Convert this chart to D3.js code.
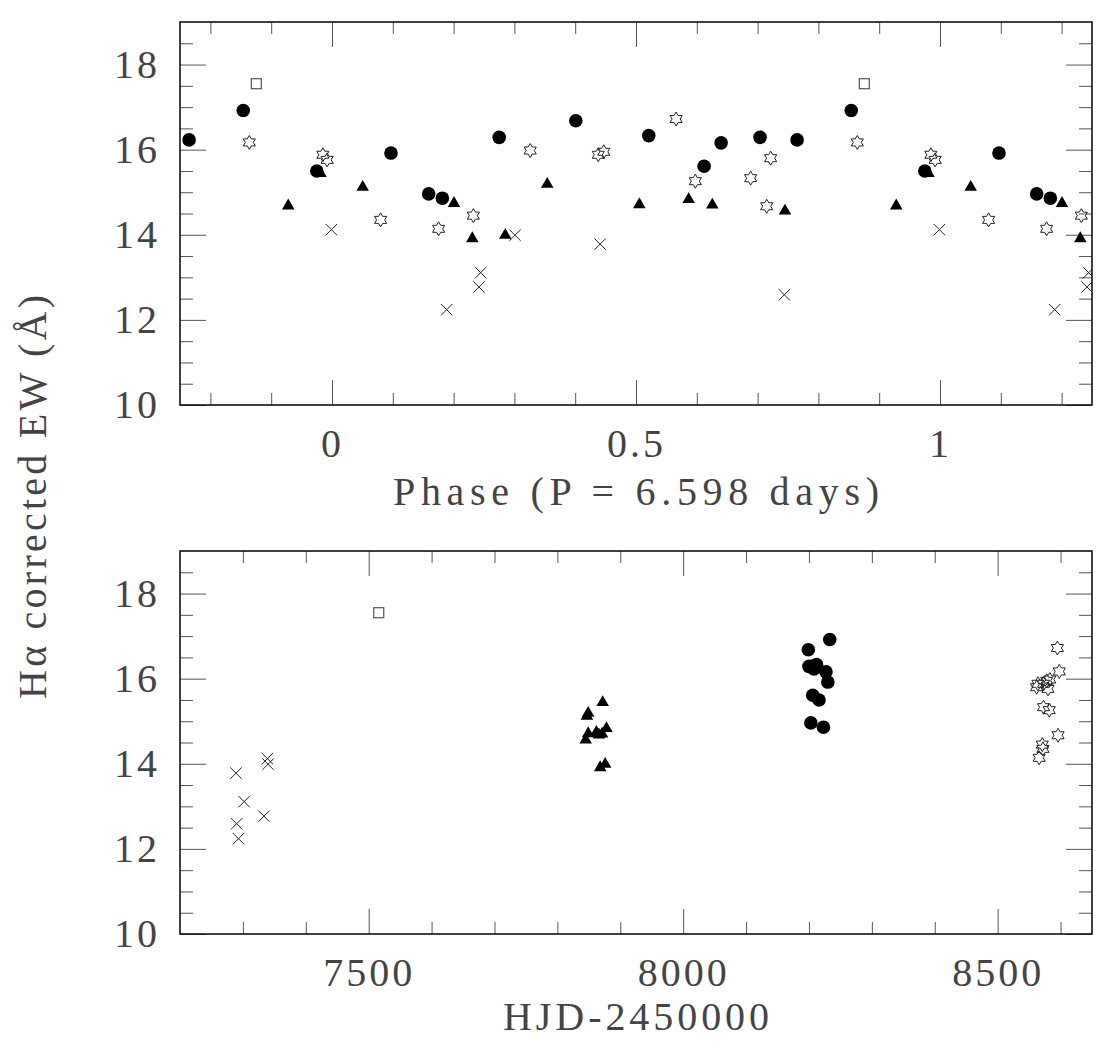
<!DOCTYPE html>
<html><head><meta charset="utf-8">
<script src="https://cdn.jsdelivr.net/npm/d3@7"></script>
<style>body{margin:0;background:#fff} svg{display:block}</style>
</head><body><svg id="c" width="1105" height="1042"></svg>
<script>
// ---------- data ----------
const circleHJD   = [8233, 8199, 8212, 8200, 8205, 8208, 8227, 8230, 8206, 8216, 8203, 8223];
const circlePhase = [0.854, 0.401, 0.521, 0.275, 0.704, 0.765, 0.640, 0.097, 0.612, 0.975, 0.159, 0.1815];
const circleEW    = [16.92, 16.68, 16.33, 16.29, 16.29, 16.23, 16.16, 15.92, 15.61, 15.50, 14.96, 14.86];

const triHJD   = [7872, 7847, 7849, 7866, 7862, 7849, 7878, 7871, 7845, 7868, 7876];
const triPhase = [0.981, 0.0505, 0.354, 0.928, 0.2007, 0.5055, 0.5866, 0.6255, 0.745, 0.2308, 0.285];
const triEW    = [15.44, 15.12, 15.19, 14.68, 14.74, 14.71, 14.83, 14.70, 14.56, 13.91, 13.99];

const starHJD   = [8595, 8598, 8583, 8578, 8564, 8573, 8562, 8580, 8573, 8582, 8596, 8571, 8572, 8566];
const starPhase = [0.566, 0.864, 0.326, 0.447, 0.438, 0.985, 0.7215, 0.992, 0.6886, 0.5976, 0.715, 0.2325, 0.080, 0.1754];
const starEW    = [16.72, 16.17, 15.98, 15.95, 15.88, 15.88, 15.80, 15.76, 15.33, 15.26, 14.67, 14.45, 14.35, 14.14];

const crossHJD   = [7289, 7302, 7290, 7293, 7339, 7340, 7333.5];
const crossPhase = [0.441, 0.2445, 0.744, 0.1886, 0.999, 0.301, 0.2418];
const crossEW    = [13.78, 13.11, 12.59, 12.24, 14.12, 13.99, 12.77];

const squareHJD   = [7516];
const squarePhase = [0.8755];
const squareEW    = [17.55];

const phaseDomain = [-0.25, 1.25];
const hjdDomain = [7200, 8650];
const ewDomain = [10, 19];
const phaseMajor = [0, 0.5, 1];
const phaseMinor = [-0.2, -0.1, 0.1, 0.2, 0.3, 0.4, 0.6, 0.7, 0.8, 0.9, 1.1, 1.2];
const hjdMajor = [7500, 8000, 8500];
const hjdMinor = [7300, 7400, 7600, 7700, 7800, 7900, 8100, 8200, 8300, 8400, 8600];
const ewMajor = [10, 12, 14, 16, 18];
const ewMinor = [10.5, 11, 11.5, 12.5, 13, 13.5, 14.5, 15, 15.5, 16.5, 17, 17.5, 18.5];

const xTitleTop = "Phase (P = 6.598 days)";
const xTitleBottom = "HJD-2450000";
const yTitle = "H\u03b1 corrected EW (\u00c5)";

// ---------- layout ----------
const svg = d3.select("#c");
const L = 180, R = 1092;
const FONT = "Liberation Serif";
const TXT = "#444";

const panels = [
  {y0: 22, y1: 405, x: d3.scaleLinear().domain(phaseDomain).range([L, R]),
   major: phaseMajor, minor: phaseMinor, fmt: d => String(d), title: xTitleTop, titleLen: 486, titleOff: 100, key: "phase"},
  {y0: 551, y1: 934, x: d3.scaleLinear().domain(hjdDomain).range([L, R]),
   major: hjdMajor, minor: hjdMinor, fmt: d => String(d), title: xTitleBottom, titleLen: 266, titleOff: 96, key: "hjd"}
];

const groups = [
  {hjd: crossHJD, phase: crossPhase, ew: crossEW, type: "cross"},
  {hjd: squareHJD, phase: squarePhase, ew: squareEW, type: "square"},
  {hjd: triHJD, phase: triPhase, ew: triEW, type: "tri"},
  {hjd: circleHJD, phase: circlePhase, ew: circleEW, type: "circle"},
  {hjd: starHJD, phase: starPhase, ew: starEW, type: "star"}
];

function hexagram(Ro) {
  const ri = Ro / Math.sqrt(3);
  const pts = [];
  for (let i = 0; i < 12; i++) {
    const a = -Math.PI / 2 + i * Math.PI / 6;
    const r = i % 2 === 0 ? Ro : ri;
    pts.push([r * Math.cos(a), r * Math.sin(a)]);
  }
  return "M" + pts.map(p => p[0].toFixed(2) + "," + p[1].toFixed(2)).join("L") + "Z";
}
const starPath = hexagram(7);
const triPath = d3.symbol(d3.symbolTriangle, 68)();
const crossPath = "M-5.7,-5.7L5.7,5.7M-5.7,5.7L5.7,-5.7";

function styleAxis(g) {
  g.select(".domain").remove();
  g.selectAll(".tick line").attr("stroke", "#555").attr("stroke-width", 1);
  g.selectAll(".tick text").attr("font-family", FONT).attr("font-size", 40)
    .attr("fill", TXT).attr("letter-spacing", "3px");
}

panels.forEach((p, i) => {
  const y = d3.scaleLinear().domain(ewDomain).range([p.y1, p.y0]);
  const g = svg.append("g");
  const clipId = "clip" + i;
  svg.append("defs").append("clipPath").attr("id", clipId)
    .append("rect").attr("x", L).attr("y", p.y0).attr("width", R - L).attr("height", p.y1 - p.y0);

  g.append("g").attr("transform", `translate(0,${p.y1})`)
    .call(d3.axisBottom(p.x).tickValues(p.major).tickSizeInner(-25).tickSizeOuter(0).tickPadding(24).tickFormat(p.fmt))
    .call(styleAxis);
  g.append("g").attr("transform", `translate(0,${p.y1})`)
    .call(d3.axisBottom(p.x).tickValues(p.minor).tickSizeInner(-12).tickSizeOuter(0).tickFormat(""))
    .call(styleAxis);
  g.append("g").attr("transform", `translate(0,${p.y0})`)
    .call(d3.axisTop(p.x).tickValues(p.major).tickSizeInner(-25).tickSizeOuter(0).tickFormat(""))
    .call(styleAxis);
  g.append("g").attr("transform", `translate(0,${p.y0})`)
    .call(d3.axisTop(p.x).tickValues(p.minor).tickSizeInner(-12).tickSizeOuter(0).tickFormat(""))
    .call(styleAxis);
  g.append("g").attr("transform", `translate(${L},0)`)
    .call(d3.axisLeft(y).tickValues(ewMajor).tickSizeInner(-26).tickSizeOuter(0).tickPadding(20).tickFormat(d => String(d)))
    .call(styleAxis);
  g.append("g").attr("transform", `translate(${L},0)`)
    .call(d3.axisLeft(y).tickValues(ewMinor).tickSizeInner(-13).tickSizeOuter(0).tickFormat(""))
    .call(styleAxis);
  g.append("g").attr("transform", `translate(${R},0)`)
    .call(d3.axisRight(y).tickValues(ewMajor).tickSizeInner(-26).tickSizeOuter(0).tickFormat(""))
    .call(styleAxis);
  g.append("g").attr("transform", `translate(${R},0)`)
    .call(d3.axisRight(y).tickValues(ewMinor).tickSizeInner(-13).tickSizeOuter(0).tickFormat(""))
    .call(styleAxis);

  g.append("rect").attr("x", L).attr("y", p.y0).attr("width", R - L).attr("height", p.y1 - p.y0)
    .attr("fill", "none").attr("stroke", "#111").attr("stroke-width", 1.6);

  g.append("text").attr("x", (L + R) / 2).attr("y", p.y1 + p.titleOff)
    .attr("text-anchor", "middle").attr("font-family", FONT).attr("font-size", 40).attr("fill", TXT)
    .attr("textLength", p.titleLen).attr("lengthAdjust", "spacing").text(p.title);

  const pg = g.append("g").attr("clip-path", `url(#${clipId})`);
  groups.forEach(gr => {
    const pts = [];
    gr.ew.forEach((v, k) => {
      if (p.key === "phase") {
        [gr.phase[k] - 1, gr.phase[k], gr.phase[k] + 1]
          .filter(ph => ph >= phaseDomain[0] && ph <= phaseDomain[1])
          .forEach(ph => pts.push([p.x(ph), y(v)]));
      } else {
        pts.push([p.x(gr.hjd[k]), y(v)]);
      }
    });
    const sel = pg.selectAll(null).data(pts);
    if (gr.type === "circle") {
      sel.enter().append("circle").attr("cx", d => d[0]).attr("cy", d => d[1]).attr("r", 6.8).attr("fill", "#000");
    } else if (gr.type === "tri") {
      sel.enter().append("path").attr("d", triPath).attr("transform", d => `translate(${d[0]},${d[1]})`).attr("fill", "#000");
    } else if (gr.type === "star") {
      sel.enter().append("path").attr("d", starPath).attr("transform", d => `translate(${d[0]},${d[1]})`)
        .attr("fill", "none").attr("stroke", "#222").attr("stroke-width", 1);
    } else if (gr.type === "cross") {
      sel.enter().append("path").attr("d", crossPath).attr("transform", d => `translate(${d[0]},${d[1]})`)
        .attr("fill", "none").attr("stroke", "#222").attr("stroke-width", 1);
    } else if (gr.type === "square") {
      sel.enter().append("rect").attr("x", d => d[0] - 5).attr("y", d => d[1] - 5).attr("width", 10).attr("height", 10)
        .attr("fill", "none").attr("stroke", "#555").attr("stroke-width", 1.2);
    }
  });
});

svg.append("text").attr("transform", "translate(46,497) rotate(-90)")
  .attr("text-anchor", "middle").attr("font-family", FONT).attr("font-size", 40).attr("fill", TXT)
  .attr("textLength", 404).attr("lengthAdjust", "spacing").text(yTitle);
</script>
</body></html>
